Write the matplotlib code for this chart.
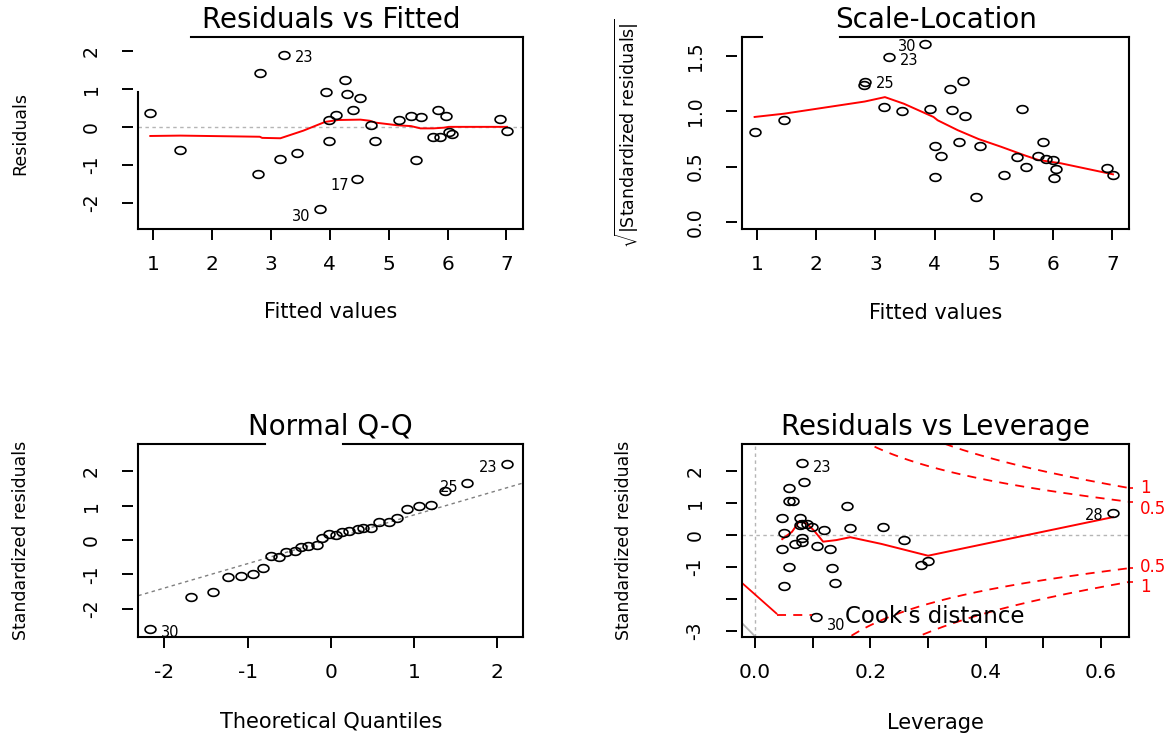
import numpy as np
import matplotlib
matplotlib.use("Agg")
import matplotlib.pyplot as plt
from matplotlib.path import Path
from matplotlib.lines import Line2D
from matplotlib.transforms import blended_transform_factory

plt.rcParams['font.family'] = ['DejaVu Sans']
plt.rcParams['mathtext.fontset'] = 'dejavusans'
plt.rcParams['axes.unicode_minus'] = False

# Residuals vs Fitted
fitted_rvf = [0.95, 1.46, 2.82, 2.78, 3.22, 3.15, 3.44, 3.84, 3.93, 3.99, 3.99,
              4.11, 4.25, 4.29, 4.40, 4.51, 4.47, 4.70, 4.77, 5.18, 5.38, 5.55,
              5.46, 5.83, 5.98, 5.75, 5.88, 6.02, 6.07, 6.89, 7.01]
resid_rvf = [0.37, -0.60, 1.42, -1.23, 1.88, -0.84, -0.68, -2.16, 0.91, 0.18, -0.37,
             0.32, 1.22, 0.87, 0.44, 0.75, -1.38, 0.05, -0.37, 0.18, 0.28, 0.25,
             -0.88, 0.44, 0.28, -0.26, -0.26, -0.13, -0.19, 0.21, -0.10]
rvf_smooth_x = [0.95, 1.46, 2.81, 2.85, 3.16, 3.55, 3.92, 4.14, 4.52, 4.68, 4.78,
                5.16, 5.38, 5.54, 5.76, 5.95, 6.02, 7.01]
rvf_smooth_y = [-0.24, -0.23, -0.26, -0.29, -0.30, -0.10, 0.13, 0.18, 0.19, 0.16, 0.11,
                0.04, 0.02, -0.04, -0.04, -0.02, 0.0, 0.0]
rvf_ids = {4: "23", 16: "17", 7: "30"}

# Scale-Location
fitted_sl = [0.96, 1.46, 2.80, 2.83, 3.23, 3.84, 3.15, 3.45, 3.92, 4.00, 4.00,
             4.11, 4.26, 4.29, 4.48, 4.51, 4.41, 4.70, 4.77, 5.17, 5.39, 5.47,
             5.55, 5.75, 5.83, 5.88, 6.00, 6.05, 6.02, 6.91, 7.01]
sqrt_std_sl = [0.81, 0.92, 1.24, 1.27, 1.49, 1.61, 1.04, 1.00, 1.02, 0.69, 0.41,
               0.60, 1.20, 1.01, 1.28, 0.96, 0.72, 0.22, 0.69, 0.42, 0.59, 1.02,
               0.50, 0.60, 0.72, 0.57, 0.56, 0.48, 0.40, 0.49, 0.42]
sl_smooth_x = [0.96, 1.46, 2.82, 3.16, 3.48, 3.98, 4.05, 4.39, 4.74, 5.12, 5.53, 5.75, 6.13, 7.01]
sl_smooth_y = [0.95, 0.98, 1.09, 1.13, 1.07, 0.95, 0.92, 0.83, 0.75, 0.68, 0.60, 0.56, 0.53, 0.43]
sl_ids = {5: "30", 4: "23", 3: "25"}

# Normal Q-Q
theo_q = [-2.17, -1.68, -1.42, -1.24, -1.08, -0.94, -0.82, -0.72, -0.62, -0.54, -0.43,
          -0.36, -0.27, -0.17, -0.10, -0.02, 0.06, 0.13, 0.22, 0.33, 0.39, 0.49,
          0.58, 0.70, 0.80, 0.92, 1.06, 1.21, 1.38, 1.64, 2.12]
std_resid_qq = [-2.60, -1.66, -1.52, -1.09, -1.04, -1.00, -0.83, -0.47, -0.49, -0.34, -0.31,
                -0.21, -0.18, -0.15, 0.05, 0.18, 0.15, 0.24, 0.27, 0.32, 0.36, 0.34,
                0.52, 0.52, 0.63, 0.90, 1.00, 1.02, 1.43, 1.66, 2.21]
qq_slope = 0.71
qq_intercept = 0.02
qq_ids = {0: "30", 29: "25", 30: "23"}

# Residuals vs Leverage
leverage = [0.081, 0.085, 0.059, 0.059, 0.066, 0.160, 0.047, 0.077, 0.050, 0.078, 0.098,
            0.119, 0.165, 0.221, 0.081, 0.081, 0.069, 0.047, 0.108, 0.130, 0.059,
            0.134, 0.050, 0.138, 0.105, 0.258, 0.288, 0.300, 0.621, 0.082, 0.090]
std_resid_lev = [2.25, 1.66, 1.46, 1.05, 1.05, 0.91, 0.53, 0.53, 0.07, 0.30, 0.24,
                 0.16, 0.21, 0.26, -0.10, -0.21, -0.29, -0.43, -0.35, -0.44, -1.00,
                 -1.04, -1.59, -1.52, -2.57, -0.16, -0.94, -0.81, 0.68, 0.35, 0.33]
lev_smooth_x = [0.047, 0.064, 0.077, 0.090, 0.102, 0.118, 0.141, 0.165, 0.219, 0.300, 0.621]
lev_smooth_y = [-0.13, 0.10, 0.44, 0.35, 0.14, -0.21, -0.16, -0.07, -0.28, -0.65, 0.56]
lev_ids = {0: "23", 28: "28", 24: "30"}
n_params = 4
cook_levels = [0.5, 1]
cook_stub_h = [-0.023, 0.037]
cook_stub_y = [-1.50, -2.46]
corner_h = [-0.023, 0.0]
corner_y = [-2.76, -3.18]

# open circle, a bit wider than tall
t = np.linspace(0, 2 * np.pi, 64)
ring = Path(np.column_stack([1.4 * np.cos(t), np.sin(t)]), closed=True)
pt_kw = dict(marker=ring, ms=7.8, mfc='none', mec='black', mew=1.2, ls='none')
smooth_kw = dict(color='red', lw=1.4)
dot_kw = dict(color='#b5b5b5', lw=1.0, ls=(0, (2.5, 2.5)))

fig = plt.figure(figsize=(11.76, 7.4), dpi=100)
ax1 = fig.add_axes([0.1176, 0.6905, 0.3273, 0.2595])
ax2 = fig.add_axes([0.6310, 0.6905, 0.3292, 0.2595])
ax3 = fig.add_axes([0.1176, 0.1392, 0.3273, 0.2608])
ax4 = fig.add_axes([0.6310, 0.1392, 0.3292, 0.2608])


def style(ax, xlim, ylim, xticks, xlabels, yticks, ylabels):
    for s in ax.spines.values():
        s.set_visible(False)
    ax.spines['left'].set_position(('outward', 4))
    ax.set_xticks(xticks, xlabels)
    ax.set_yticks(yticks, ylabels)
    ax.set_xlim(xlim)
    ax.set_ylim(ylim)
    ax.tick_params(direction='out', length=8, width=1.4)
    ax.tick_params(axis='x', labelsize=14.5, pad=11)
    ax.tick_params(axis='y', labelsize=13.5, pad=15, labelrotation=90)
    for lbl in ax.get_yticklabels():
        lbl.set_va('center')


def frame(ax, top=((0, 1),), left=((0, 1),)):
    kw = dict(transform=ax.transAxes, color='black', lw=1.5, clip_on=False,
              solid_capstyle='projecting')
    ax.plot([0, 1], [0, 0], **kw)
    ax.plot([1, 1], [0, 1], **kw)
    for a, b in top:
        ax.plot([a, b], [1, 1], **kw)
    for a, b in left:
        ax.plot([0, 0], [a, b], **kw)


def tag(ax, x, y, text, dx, dy):
    ax.annotate(text, (x, y), xytext=(dx * 0.72, -dy * 0.72), textcoords='offset points',
                ha='center', va='center', fontsize=10.5, annotation_clip=False)


def labels(ax, title, xlab, ylab, xpos, ypos):
    ax.set_title(title, fontsize=20, pad=6.5)
    ax.text(0.5, ypos, xlab, transform=ax.transAxes, ha='center', va='center', fontsize=15)
    ax.text(xpos, 0.5, ylab, transform=ax.transAxes, rotation=90,
            ha='center', va='center', fontsize=12.5)


# Residuals vs Fitted
ax1.axhline(0, **dot_kw)
ax1.plot(rvf_smooth_x, rvf_smooth_y, **smooth_kw)
ax1.plot(fitted_rvf, resid_rvf, **pt_kw)
offs = {"23": (20, 2), "17": (-18, 6), "30": (-19, 8)}
for i, s in rvf_ids.items():
    tag(ax1, fitted_rvf[i], resid_rvf[i], s, *offs[s])
style(ax1, (0.746, 7.286), (-2.687, 2.363), range(1, 8), None, [-2, -1, 0, 1, 2], None)
frame(ax1, top=((0.136, 1),), left=((0, 0.715),))
labels(ax1, "Residuals vs Fitted", "Fitted values", "Residuals", -0.306, -0.432)

# Scale-Location
ax2.plot(sl_smooth_x, sl_smooth_y, **smooth_kw)
ax2.plot(fitted_sl, sqrt_std_sl, **pt_kw)
offs = {"30": (-18, 2), "23": (20, 3), "25": (20, 2)}
for i, s in sl_ids.items():
    tag(ax2, fitted_sl[i], sqrt_std_sl[i], s, *offs[s])
style(ax2, (0.748, 7.284), (-0.066, 1.675), range(1, 8), None,
      [0, 0.5, 1.0, 1.5], ["0.0", "0.5", "1.0", "1.5"])
frame(ax2, top=((0, 0.051), (0.252, 1)))
labels(ax2, "Scale-Location", "Fitted values",
       r"$\sqrt{|\mathrm{Standardized\ residuals}|}$", -0.298, -0.436)

# Normal Q-Q
ax3.axline((0, qq_intercept), slope=qq_slope, color='#808080', lw=1.0, ls=(0, (2.5, 2.5)))
ax3.plot(theo_q, std_resid_qq, **pt_kw)
offs = {"30": (20, 3), "25": (-18, 4), "23": (-19, 3)}
for i, s in qq_ids.items():
    tag(ax3, theo_q[i], std_resid_qq[i], s, *offs[s])
style(ax3, (-2.315, 2.315), (-2.829, 2.800), [-2, -1, 0, 1, 2], None, [-2, -1, 0, 1, 2], None)
frame(ax3, top=((0, 0.330), (0.532, 1)))
labels(ax3, "Normal Q-Q", "Theoretical Quantiles", "Standardized residuals", -0.306, -0.439)

# Residuals vs Leverage
xmax4 = 0.649
ax4.axhline(0, **dot_kw)
ax4.axvline(0, **dot_kw)
hh = np.linspace(0.005, xmax4, 200)
for lev in cook_levels:
    cy = np.sqrt(lev * n_params * (1 - hh) / hh)
    ax4.plot(hh, cy, color='red', lw=1.3, ls=(0, (5, 4)))
    ax4.plot(hh, -cy, color='red', lw=1.3, ls=(0, (5, 4)))
ax4.plot(cook_stub_h, cook_stub_y, color='red', lw=1.3)
ax4.plot(corner_h, corner_y, color='#b5b5b5', lw=1.3)
ax4.plot(lev_smooth_x, lev_smooth_y, **smooth_kw)
ax4.plot(leverage, std_resid_lev, **pt_kw)
offs = {"23": (20, 4), "28": (-19, 2), "30": (21, 9)}
for i, s in lev_ids.items():
    tag(ax4, leverage[i], std_resid_lev[i], s, *offs[s])
style(ax4, (-0.0227, xmax4), (-3.197, 2.851), np.arange(0, 0.61, 0.1),
      ["0.0", "", "0.2", "", "0.4", "", "0.6"], [-3, -2, -1, 0, 1, 2],
      ["-3", "", "-1", "0", "1", "2"])
frame(ax4)
labels(ax4, "Residuals vs Leverage", "Leverage", "Standardized residuals", -0.306, -0.444)
ax4.legend(handles=[Line2D([], [], color='red', lw=1.3, ls=(0, (5, 4)))],
           labels=["Cook's distance"], loc='center left', bbox_to_anchor=(0.089, 0.108),
           frameon=False, fontsize=16.5, handlelength=1.55, handletextpad=1.45,
           borderpad=0, borderaxespad=0)

# contour levels marked on the right edge
edge = [np.sqrt(lev * n_params * (1 - xmax4) / xmax4) for lev in cook_levels]
rax = ax4.secondary_yaxis('right')
rax.spines['right'].set_visible(False)
rax.set_yticks([edge[1], edge[0], -edge[0], -edge[1]], ["", "", "", ""])
rax.tick_params(length=3, width=1.2, colors='red')
right_tf = blended_transform_factory(ax4.transAxes, ax4.transData)
for val, s, nudge in [(edge[1], "1", 0), (edge[0], "0.5", -5),
                      (-edge[0], "0.5", 1), (-edge[1], "1", -4)]:
    ax4.annotate(s, (1, val), xycoords=right_tf, xytext=(8, nudge), textcoords='offset points',
                 ha='left', va='center', fontsize=12, color='red', annotation_clip=False)

fig.savefig("out.png", dpi=100)
